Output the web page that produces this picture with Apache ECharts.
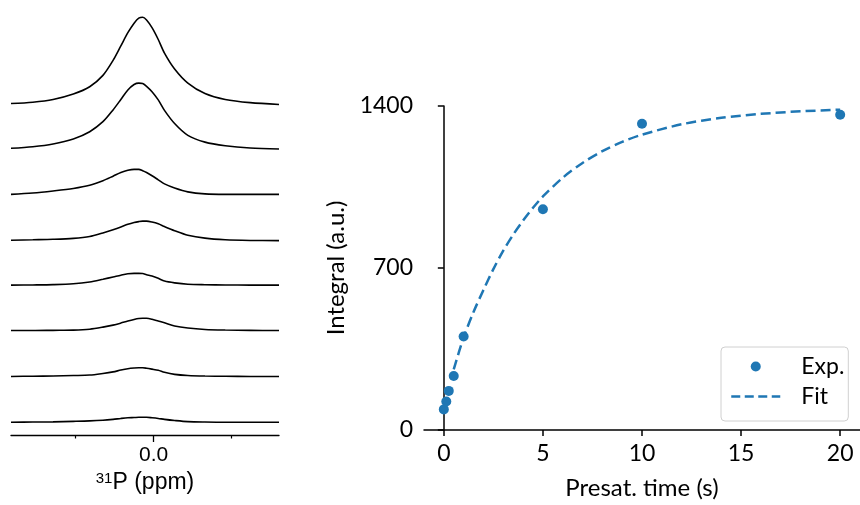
<!DOCTYPE html>
<html><head><meta charset="utf-8">
<script src="https://cdn.jsdelivr.net/npm/echarts@6/dist/echarts.min.js"></script>
<style>html,body{margin:0;padding:0;background:#fff}#c{width:860px;height:505px}</style>
</head><body><div id="c"></div>
<script>
// ---- left panel: stacked 31P spectra (top trace = longest presaturation) ----
const shiftPpm = [1.83, 1.55, 1.29, 1.03, 0.82, 0.65, 0.52, 0.42, 0.33, 0.25, 0.19, 0.14, 0.09, 0.02, -0.06, -0.14, -0.27, -0.44, -0.66, -0.92, -1.24, -1.61];
const traceOffsets = [7.28, 6.30, 5.30, 4.28, 3.30, 2.30, 1.29, 0.28];
const trace1 = [0.02,0.05,0.11,0.23,0.39,0.64,0.97,1.29,1.58,1.79,1.90,1.92,1.86,1.69,1.43,1.13,0.78,0.47,0.24,0.11,0.04,0];
const trace2 = [0.015,0.05,0.11,0.22,0.38,0.60,0.86,1.09,1.30,1.42,1.45,1.44,1.38,1.26,1.08,0.85,0.56,0.30,0.15,0.07,0.02,0];
const trace3 = [0,0.03,0.075,0.13,0.20,0.30,0.40,0.48,0.53,0.55,0.55,0.52,0.48,0.41,0.32,0.23,0.14,0.055,0.01,0,0,0];
const trace4 = [0.01,0.02,0.03,0.05,0.09,0.17,0.24,0.30,0.36,0.40,0.42,0.43,0.43,0.41,0.37,0.31,0.22,0.12,0.055,0.02,0.005,0];
const trace5 = [0,0.005,0.012,0.03,0.07,0.13,0.18,0.22,0.25,0.26,0.26,0.255,0.23,0.20,0.15,0.09,0.05,0.02,0.01,0.005,0,0];
const trace6 = [0,0,0.005,0.01,0.03,0.075,0.12,0.165,0.21,0.245,0.265,0.27,0.27,0.25,0.21,0.17,0.10,0.055,0.025,0.012,0.005,0];
const trace7 = [0,0.005,0.01,0.02,0.03,0.065,0.10,0.14,0.17,0.185,0.19,0.19,0.18,0.16,0.135,0.09,0.045,0.02,0.008,0.003,0,0];
const trace8 = [0,0.005,0.01,0.02,0.03,0.045,0.065,0.085,0.10,0.105,0.11,0.11,0.11,0.10,0.085,0.065,0.04,0.015,0.005,0,0,0];
const traces = [trace1, trace2, trace3, trace4, trace5, trace6, trace7, trace8];
const ppmMajorTicks = [0];
const ppmMinorTicks = [1, -1];

// ---- right panel: integral vs presaturation time ----
const presatTimes = [0, 0.125, 0.25, 0.5, 1, 5, 10, 20];
const integrals = [89, 123, 169, 233, 404, 954, 1323, 1362];
const fitTimes = [0.5, 1, 1.5, 2, 2.5, 3, 3.5, 4, 4.5, 5, 6, 7, 8, 9, 10, 12, 14, 16, 18, 20];
const fitValues = [262, 400, 510, 605, 695, 775, 844, 905, 960, 1009, 1090, 1154, 1205, 1245, 1276, 1321, 1349, 1366, 1377, 1384];
const timeTicks = [0, 5, 10, 15, 20];
const integralTicks = [0, 700, 1400];

const BLUE = '#1f77b4';
const SANS = 'Lato';
const ARIAL = 'Liberation Sans';

const chart = echarts.init(document.getElementById('c'), null, {renderer: 'canvas'});

const spectraSeries = traces.map((tr, k) => ({
  type: 'line', xAxisIndex: 0, yAxisIndex: 0,
  data: shiftPpm.map((x, i) => [x, traceOffsets[k] + tr[i]]),
  smooth: 0.3, showSymbol: false, symbol: 'none', silent: true,
  lineStyle: {color: '#000', width: 1.6}
}));

chart.setOption({
  animation: false,
  backgroundColor: '#fff',
  grid: [
    {left: 11, width: 268, top: 10, bottom: 70},
    {left: 424, right: -6, top: 106, bottom: 70}
  ],
  xAxis: [
    {
      gridIndex: 0, type: 'value', inverse: true, min: -1.61, max: 1.83,
      axisLine: {show: true, lineStyle: {color: '#000', width: 1.3}},
      axisTick: {show: true, customValues: ppmMajorTicks, length: 7, lineStyle: {color: '#000', width: 1.3}},
      axisLabel: {customValues: ppmMajorTicks, formatter: v => v.toFixed(1), fontFamily: ARIAL, fontSize: 21, color: '#000', margin: 10},
      splitLine: {show: false},
      name: '{s|31}P (ppm)', nameLocation: 'middle', nameGap: 28,
      nameTextStyle: {fontFamily: ARIAL, fontSize: 23, color: '#000',
        rich: {s: {fontFamily: ARIAL, fontSize: 15, verticalAlign: 'top', color: '#000'}}}
    },
    {
      gridIndex: 0, type: 'value', inverse: true, min: -1.61, max: 1.83, position: 'bottom',
      axisLine: {show: false},
      axisTick: {show: true, customValues: ppmMinorTicks, length: 3.5, lineStyle: {color: '#000', width: 1.2}},
      axisLabel: {show: false}, splitLine: {show: false}
    },
    {
      gridIndex: 1, type: 'value', min: -1, max: 21,
      axisLine: {show: true, lineStyle: {color: '#000', width: 1.5}},
      axisTick: {show: true, customValues: timeTicks, length: 6, lineStyle: {color: '#000', width: 1.5}},
      axisLabel: {customValues: timeTicks, formatter: v => String(v), fontFamily: SANS, fontSize: 23, color: '#000', margin: 12},
      splitLine: {show: false},
      name: 'Presat. time (s)', nameLocation: 'middle', nameGap: 46,
      nameTextStyle: {fontFamily: SANS, fontSize: 24, color: '#000'}
    }
  ],
  yAxis: [
    {gridIndex: 0, type: 'value', min: 0, max: 9.36, show: false},
    {
      gridIndex: 1, type: 'value', min: 0, max: 1400, interval: 700,
      axisLine: {show: true, lineStyle: {color: '#000', width: 1.5}},
      axisTick: {show: true, length: 6, lineStyle: {color: '#000', width: 1.5}},
      axisLabel: {formatter: v => String(v), fontFamily: SANS, fontSize: 23, color: '#000', margin: 11},
      splitLine: {show: false},
      name: 'Integral (a.u.)', nameLocation: 'middle', nameGap: 75,
      nameTextStyle: {fontFamily: SANS, fontSize: 24, color: '#000'}
    }
  ],
  legend: {
    orient: 'vertical', left: 721, top: 347,
    data: [
      {name: 'Exp.', icon: 'circle'},
      {name: 'Fit', itemStyle: {opacity: 0, color: 'rgba(0,0,0,0)', borderWidth: 0},
       lineStyle: {color: BLUE, width: 2.5, type: [9, 4.5], opacity: 1}}
    ],
    itemWidth: 49, itemHeight: 10, itemGap: 7,
    padding: [8, 4, 13, 9],
    borderColor: '#d0d0d0', borderWidth: 1, borderRadius: 4,
    backgroundColor: 'rgba(255,255,255,0.8)',
    textStyle: {fontFamily: SANS, fontSize: 23, color: '#000', lineHeight: 22, padding: [0, 0, 0, 16]}
  },
  series: spectraSeries.concat([
    {
      name: 'Fit', type: 'line', xAxisIndex: 2, yAxisIndex: 1,
      data: fitTimes.map((t, i) => [t, fitValues[i]]),
      smooth: 0.3, showSymbol: false, symbol: 'none', z: 2,
      lineStyle: {color: BLUE, width: 2.5, type: [10, 5]},
      itemStyle: {color: BLUE}
    },
    {
      name: 'Exp.', type: 'scatter', xAxisIndex: 2, yAxisIndex: 1,
      data: presatTimes.map((t, i) => [t, integrals[i]]),
      symbol: 'circle', symbolSize: 10, z: 3,
      itemStyle: {color: BLUE, opacity: 1}
    }
  ])
});
</script></body></html>
